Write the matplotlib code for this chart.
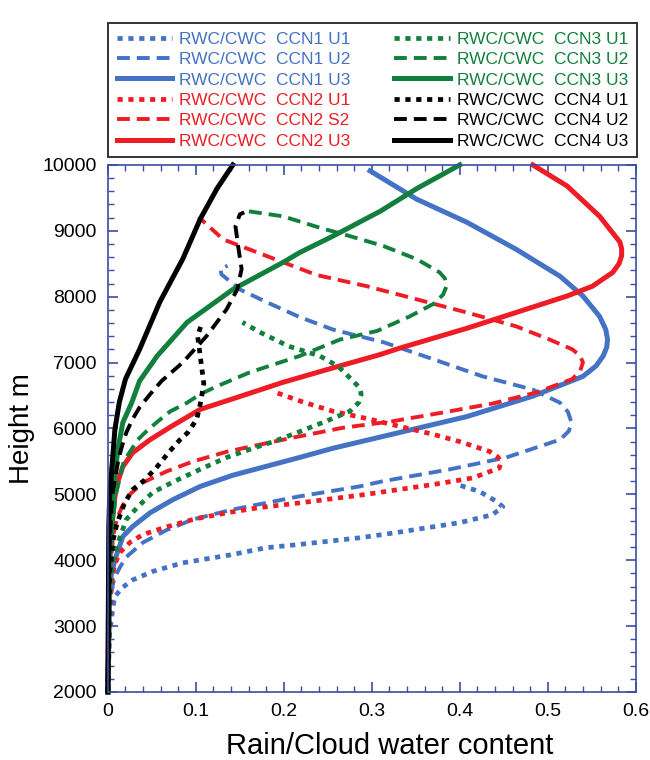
import matplotlib
matplotlib.use("Agg")
import matplotlib.pyplot as plt
from matplotlib.ticker import MultipleLocator

plt.rcParams['font.family'] = ['Liberation Sans', 'DejaVu Sans']

# heights (m) and RWC/CWC values
h_c1u1 = [2000, 2900, 3070, 3250, 3450, 3580, 3700, 3830, 3960, 4080, 4190, 4240, 4340, 4420, 4570, 4690, 4810, 4890, 5040, 5150]
x_c1u1 = [0, 0.001, 0.004, 0.005, 0.008, 0.016, 0.028, 0.051, 0.085, 0.139, 0.18, 0.218, 0.286, 0.328, 0.40, 0.437, 0.449, 0.442, 0.423, 0.397]

h_c1u2 = [2000, 3300, 3600, 3750, 3900, 4050, 4270, 4460, 4620, 4770, 4920, 4970, 5120, 5200, 5380, 5560, 5830, 5960, 6090, 6250, 6390, 6590, 6790, 7050, 7310, 7500, 7690, 7920, 8110, 8340, 8420, 8470]
x_c1u2 = [0, 0.002, 0.005, 0.008, 0.014, 0.021, 0.04, 0.067, 0.097, 0.142, 0.199, 0.218, 0.286, 0.313, 0.389, 0.453, 0.514, 0.524, 0.527, 0.523, 0.514, 0.483, 0.426, 0.37, 0.313, 0.256, 0.218, 0.18, 0.15, 0.129, 0.128, 0.136]

h_c1u3 = [2000, 3500, 3800, 4050, 4360, 4510, 4720, 4920, 5120, 5290, 5400, 5560, 5700, 5940, 6180, 6490, 6790, 6950, 7100, 7230, 7350, 7500, 7700, 8010, 8310, 8720, 9130, 9480, 9910]
x_c1u3 = [0, 0.002, 0.004, 0.009, 0.017, 0.028, 0.048, 0.074, 0.105, 0.142, 0.173, 0.218, 0.256, 0.332, 0.408, 0.483, 0.54, 0.555, 0.563, 0.567, 0.568, 0.566, 0.559, 0.54, 0.514, 0.464, 0.408, 0.351, 0.298]

h_c2u1 = [2000, 3500, 3900, 4110, 4270, 4390, 4500, 4630, 4730, 4800, 4870, 5000, 5150, 5250, 5400, 5500, 5570, 5650, 5800, 5910, 6030, 6140, 6260, 6400, 6550]
x_c2u1 = [0, 0.003, 0.007, 0.013, 0.025, 0.04, 0.065, 0.10, 0.14, 0.173, 0.218, 0.294, 0.37, 0.415, 0.445, 0.447, 0.443, 0.434, 0.40, 0.37, 0.332, 0.298, 0.256, 0.222, 0.19]

h_c2s2 = [2000, 3800, 4360, 4620, 4810, 5000, 5180, 5350, 5500, 5650, 5860, 6010, 6110, 6240, 6380, 6550, 6750, 6880, 7000, 7100, 7200, 7350, 7550, 7760, 7960, 8160, 8330, 8620, 8870, 9210]
x_c2s2 = [0, 0.002, 0.006, 0.010, 0.016, 0.025, 0.04, 0.067, 0.097, 0.136, 0.21, 0.267, 0.324, 0.38, 0.438, 0.488, 0.528, 0.537, 0.54, 0.537, 0.528, 0.502, 0.464, 0.408, 0.351, 0.294, 0.237, 0.18, 0.131, 0.103]

h_c2u3 = [2000, 3800, 4460, 4970, 5220, 5420, 5630, 5830, 6030, 6290, 6450, 6700, 6920, 7120, 7220, 7520, 7760, 8010, 8160, 8370, 8500, 8620, 8730, 8830, 9220, 9680, 10000]
x_c2u3 = [0, 0.001, 0.004, 0.008, 0.012, 0.017, 0.028, 0.048, 0.072, 0.105, 0.142, 0.199, 0.256, 0.309, 0.332, 0.408, 0.464, 0.522, 0.551, 0.574, 0.581, 0.584, 0.584, 0.582, 0.559, 0.522, 0.483]

h_c3u1 = [2000, 3500, 3900, 4110, 4360, 4620, 4810, 5030, 5200, 5380, 5560, 5700, 5800, 5910, 6110, 6260, 6390, 6520, 6620, 6730, 6940, 7100, 7250, 7460, 7610]
x_c3u1 = [0, 0.002, 0.005, 0.008, 0.014, 0.021, 0.034, 0.051, 0.076, 0.105, 0.135, 0.165, 0.188, 0.21, 0.248, 0.275, 0.285, 0.288, 0.286, 0.278, 0.262, 0.241, 0.205, 0.173, 0.153]

h_c3u2 = [2000, 4000, 4500, 5000, 5500, 5830, 5960, 6110, 6260, 6390, 6520, 6640, 6850, 7100, 7350, 7480, 7700, 7890, 8030, 8160, 8280, 8370, 8570, 8770, 8920, 9050, 9220, 9300]
x_c3u2 = [0, 0.002, 0.005, 0.009, 0.018, 0.034, 0.044, 0.057, 0.071, 0.09, 0.105, 0.124, 0.161, 0.218, 0.264, 0.306, 0.343, 0.37, 0.381, 0.385, 0.383, 0.377, 0.351, 0.313, 0.275, 0.24, 0.199, 0.158]

h_c3u3 = [2000, 4000, 4810, 5330, 5730, 6090, 6390, 6720, 7100, 7610, 8110, 8520, 8670, 8920, 9300, 9640, 10000]
x_c3u3 = [0, 0.002, 0.006, 0.008, 0.012, 0.017, 0.027, 0.036, 0.056, 0.09, 0.142, 0.199, 0.218, 0.256, 0.31, 0.351, 0.40]

h_c4u1 = [2000, 3800, 4310, 4540, 4690, 4870, 5070, 5220, 5420, 5650, 5830, 5940, 6140, 6370, 6680, 7100, 7400, 7610]
x_c4u1 = [0, 0.002, 0.006, 0.010, 0.014, 0.019, 0.028, 0.042, 0.056, 0.070, 0.082, 0.091, 0.101, 0.105, 0.109, 0.105, 0.102, 0.107]

h_c4u2 = [2000, 4000, 5000, 5530, 5730, 5940, 6140, 6320, 6520, 6720, 7000, 7400, 7810, 8110, 8420, 8770, 9070, 9250, 9280]
x_c4u2 = [0, 0.001, 0.005, 0.012, 0.016, 0.021, 0.028, 0.036, 0.048, 0.061, 0.085, 0.112, 0.135, 0.147, 0.152, 0.148, 0.145, 0.15, 0.155]

h_c4u3 = [2000, 4500, 4970, 5480, 5990, 6400, 6750, 7200, 7920, 8570, 9180, 9640, 10000]
x_c4u3 = [0, 0.001, 0.002, 0.005, 0.008, 0.013, 0.02, 0.036, 0.059, 0.085, 0.105, 0.124, 0.142]

blue = '#4472c4'
red = '#ee1c24'
green = '#12803c'
black = '#000000'

dot = (0, (1.1, 1.2))
dash = (0, (3.3, 1.8))

series = [
    (x_c1u1, h_c1u1, blue, dot, 3.4, 'RWC/CWC  CCN1 U1'),
    (x_c1u2, h_c1u2, blue, dash, 2.8, 'RWC/CWC  CCN1 U2'),
    (x_c1u3, h_c1u3, blue, '-', 3.6, 'RWC/CWC  CCN1 U3'),
    (x_c2u1, h_c2u1, red, dot, 3.4, 'RWC/CWC  CCN2 U1'),
    (x_c2s2, h_c2s2, red, dash, 2.8, 'RWC/CWC  CCN2 S2'),
    (x_c2u3, h_c2u3, red, '-', 3.6, 'RWC/CWC  CCN2 U3'),
    (x_c3u1, h_c3u1, green, dot, 3.4, 'RWC/CWC  CCN3 U1'),
    (x_c3u2, h_c3u2, green, dash, 2.8, 'RWC/CWC  CCN3 U2'),
    (x_c3u3, h_c3u3, green, '-', 3.6, 'RWC/CWC  CCN3 U3'),
    (x_c4u1, h_c4u1, black, dot, 3.4, 'RWC/CWC  CCN4 U1'),
    (x_c4u2, h_c4u2, black, dash, 2.8, 'RWC/CWC  CCN4 U2'),
    (x_c4u3, h_c4u3, black, '-', 3.6, 'RWC/CWC  CCN4 U3'),
]

fig = plt.figure(figsize=(6.5, 7.6), dpi=100)
ax = fig.add_axes([0.166, 0.0895, 0.812, 0.6935])

handles = []
for xs, hs, col, ls, lw, lab in series:
    ln, = ax.plot(xs, hs, color=col, linestyle=ls, linewidth=lw, label=lab,
                  dash_capstyle='butt', solid_joinstyle='round', clip_on=False)
    handles.append(ln)

ax.set_xlim(0, 0.6)
ax.set_ylim(2000, 10000)
ax.xaxis.set_major_locator(MultipleLocator(0.1))
ax.xaxis.set_minor_locator(MultipleLocator(0.02))
ax.yaxis.set_major_locator(MultipleLocator(1000))
ax.yaxis.set_minor_locator(MultipleLocator(200))
ax.set_xticks([0, 0.1, 0.2, 0.3, 0.4, 0.5, 0.6])
ax.set_xticklabels(['0', '0.1', '0.2', '0.3', '0.4', '0.5', '0.6'])

axcol = '#3b4ea3'
for s in ax.spines.values():
    s.set_color(axcol)
    s.set_linewidth(1.2)
ax.tick_params(which='both', direction='in', top=True, right=True, color=axcol,
               labelsize=14, labelcolor='black')
ax.tick_params(which='major', length=7, width=1.2, pad=8)
ax.tick_params(which='minor', length=4, width=1.0)

ax.set_xlabel('Rain/Cloud water content', fontsize=21, labelpad=4)
ax.xaxis.set_label_coords(0.534, -0.075)
ax.set_ylabel('Height m', fontsize=20, labelpad=5)

leg = fig.legend(handles=handles, ncol=2, loc='lower left',
                 bbox_to_anchor=(0.166, 0.793, 0.814, 0.1925), mode='expand',
                 borderaxespad=0, fontsize=12.5, frameon=True, fancybox=False,
                 handlelength=3.2, handletextpad=0.4, labelspacing=0.3,
                 columnspacing=1.0, borderpad=0.5)
leg.get_frame().set_edgecolor('black')
leg.get_frame().set_linewidth(1.4)
for t, ln in zip(leg.get_texts(), handles):
    t.set_color(ln.get_color())

fig.savefig('out.png', dpi=100)
